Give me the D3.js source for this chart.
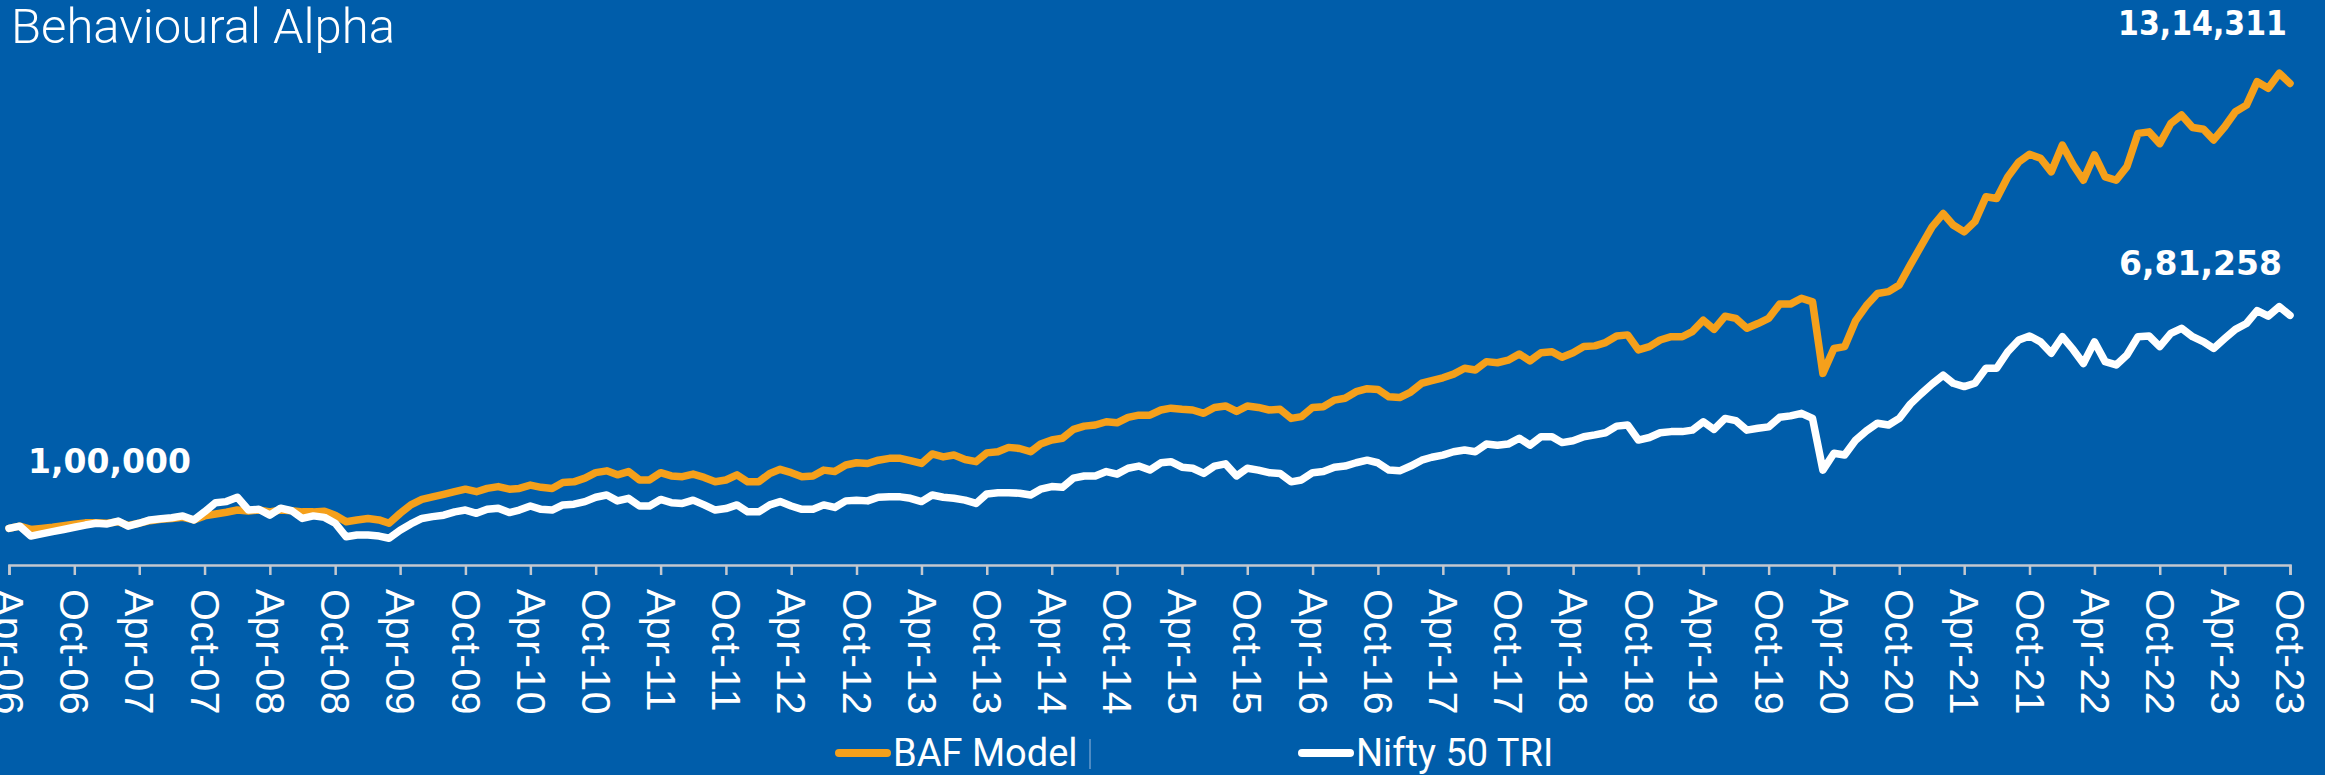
<!DOCTYPE html>
<html>
<head>
    <title>Behavioural Alpha</title>
    <script src="https://d3js.org/d3.v7.min.js"></script>
    <style>
        body { margin: 0; background: #005daa; }
    </style>
</head>
<body>
    <div id="chart"></div>

    <script>
        // monthly points, Apr-06 .. Oct-23, values in thousands of rupees
        const startMonth = Date.UTC(2006, 3, 1);
        const endMonth = Date.UTC(2023, 9, 1);

        const bafModel = [
            100, 106, 97, 100, 103, 107, 111, 115, 115, 114, 118, 108,
            114, 121, 125, 127, 130, 123, 134, 139, 144, 150, 147, 150,
            145, 150, 148, 145, 145, 147, 136, 118, 123, 127, 123, 114,
            141, 164, 179, 186, 193, 200, 207, 200, 209, 214, 207, 209,
            218, 212, 209, 225, 227, 237, 252, 257, 246, 255, 232, 232,
            252, 243, 241, 248, 239, 227, 232, 246, 227, 227, 250, 261,
            252, 241, 243, 259, 255, 273, 279, 277, 286, 291, 291, 285,
            277, 303, 295, 300, 288, 282, 306, 309, 321, 318, 309, 330,
            341, 346, 370, 379, 382, 391, 388, 403, 409, 409, 423, 428,
            425, 423, 414, 430, 434, 419, 434, 430, 423, 425, 400, 405,
            430, 432, 450, 455, 473, 481, 479, 459, 457, 472, 496, 503,
            511, 521, 537, 532, 555, 552, 559, 576, 557, 579, 582, 567,
            579, 596, 598, 607, 625, 628, 587, 596, 614, 623, 623, 637,
            668, 643, 679, 673, 646, 659, 673, 712, 712, 728, 718, 523,
            591, 596, 667, 708, 741, 746, 764, 819, 870, 923, 959, 928,
            909, 937, 1005, 1000, 1059, 1100, 1121, 1110, 1073, 1146, 1091, 1050,
            1119, 1059, 1050, 1087, 1178, 1182, 1150, 1205, 1228, 1194, 1189, 1160,
            1196, 1237, 1255, 1319, 1301, 1342, 1314.311
        ];

        const nifty50Tri = [
            100, 106, 79, 85, 91, 97, 103, 109, 114, 112, 120, 106,
            114, 123, 126, 129, 134, 123, 145, 170, 173, 185, 150, 152,
            136, 155, 148, 127, 134, 130, 114, 77, 82, 82, 79, 73,
            95, 112, 127, 132, 136, 145, 150, 141, 152, 155, 143, 150,
            161, 152, 150, 164, 166, 173, 185, 191, 175, 182, 161, 161,
            179, 170, 168, 177, 164, 150, 154, 164, 145, 145, 164, 173,
            161, 152, 152, 164, 157, 175, 177, 175, 185, 186, 186, 182,
            173, 191, 185, 182, 177, 168, 194, 197, 197, 196, 191, 207,
            214, 212, 237, 243, 243, 255, 248, 264, 270, 259, 279, 282,
            267, 264, 250, 270, 276, 243, 264, 259, 252, 250, 227, 232,
            252, 255, 267, 270, 279, 286, 279, 259, 257, 270, 286, 294,
            300, 309, 314, 309, 330, 327, 330, 346, 327, 350, 350, 334,
            339, 350, 355, 361, 379, 382, 341, 348, 361, 364, 364, 368,
            391, 370, 400, 394, 368, 373, 377, 403, 407, 414, 400, 259,
            305, 300, 341, 366, 387, 382, 400, 439, 467, 494, 518, 496,
            487, 496, 537, 537, 582, 614, 625, 609, 578, 623, 587, 550,
            609, 555, 546, 573, 623, 625, 596, 632, 646, 623, 609, 591,
            618, 643, 659, 694, 679, 705, 681.258
        ];

        const seriesNames = ["BAF Model", "Nifty 50 TRI"];
        const seriesColors = ["#f5a01b", "#ffffff"];
        const startLabel = "1,00,000";
        const endLabels = ["13,14,311", "6,81,258"];

        const width = 2325, height = 775;

        const months = d3.utcMonth.range(new Date(startMonth), d3.utcMonth.offset(new Date(endMonth), 1));
        const toRows = vals => months.map((d, i) => ({ date: d, value: vals[i] * 1000 }));
        const baf = toRows(bafModel);
        const nifty = toRows(nifty50Tri);

        const svg = d3.select("#chart").append("svg")
            .attr("width", width)
            .attr("height", height)
            .style("display", "block")
            .style("background", "#005daa");

        const x = d3.scaleUtc()
            .domain([new Date(startMonth), new Date(endMonth)])
            .range([9, 2290]);

        const y = d3.scaleLinear()
            .domain([0, 1400000])
            .range([565, 52]);

        // x axis: a tick every April and October
        const tickDates = d3.utcMonth.range(new Date(startMonth), d3.utcMonth.offset(new Date(endMonth), 1), 6);
        const xAxis = svg.append("g")
            .attr("transform", "translate(0," + y(0) + ")")
            .call(d3.axisBottom(x)
                .tickValues(tickDates)
                .tickFormat(d3.utcFormat("%b-%y"))
                .tickSizeInner(10)
                .tickSizeOuter(10));

        xAxis.select(".domain").attr("stroke", "#c3c8cf").attr("stroke-width", 2.5);
        xAxis.selectAll(".tick line").attr("stroke", "#c3c8cf").attr("stroke-width", 2.5);
        xAxis.selectAll(".tick text")
            .attr("fill", "#ffffff")
            .attr("font-family", "'Liberation Sans', Arial, sans-serif")
            .attr("font-size", 41)
            .attr("letter-spacing", 0.5)
            .attr("text-anchor", "start")
            .attr("dy", "0.35em")
            .attr("transform", "translate(0,14) rotate(90)")
            .attr("x", 10)
            .attr("y", 0);

        const line = d3.line()
            .x(d => x(d.date))
            .y(d => y(d.value))
            .curve(d3.curveLinear);

        [baf, nifty].forEach((s, i) => {
            svg.append("path")
                .datum(s)
                .attr("fill", "none")
                .attr("stroke", seriesColors[i])
                .attr("stroke-width", 7.5)
                .attr("stroke-linejoin", "round")
                .attr("stroke-linecap", "round")
                .attr("d", line);
        });

        // title
        svg.append("text")
            .attr("x", 11)
            .attr("y", 43)
            .attr("fill", "#ffffff")
            .attr("font-family", "Roboto, 'Open Sans', sans-serif")
            .attr("font-weight", 300)
            .attr("font-size", 49)
            .text("Behavioural Alpha");

        // value labels
        const valueFont = "'DejaVu Sans', Verdana, sans-serif";
        svg.append("text")
            .attr("x", x(baf[0].date) + 19)
            .attr("y", y(baf[0].value) - 55)
            .attr("fill", "#ffffff")
            .attr("font-family", valueFont)
            .attr("font-weight", 700)
            .attr("font-size", 33)
            .text(startLabel);

        const lastBaf = baf[baf.length - 1], lastNifty = nifty[nifty.length - 1];
        svg.append("text")
            .attr("x", x(lastBaf.date) - 172)
            .attr("y", y(lastBaf.value) - 48)
            .attr("fill", "#ffffff")
            .attr("font-family", valueFont)
            .attr("font-weight", 700)
            .attr("font-size", 33)
            .attr("textLength", 169)
            .attr("lengthAdjust", "spacingAndGlyphs")
            .text(endLabels[0]);

        svg.append("text")
            .attr("x", x(lastNifty.date) - 171)
            .attr("y", y(lastNifty.value) - 40)
            .attr("fill", "#ffffff")
            .attr("font-family", valueFont)
            .attr("font-weight", 700)
            .attr("font-size", 33)
            .text(endLabels[1]);

        // legend
        const legendX = [835, 1298];
        const legend = svg.append("g").attr("transform", "translate(0,753)");
        seriesNames.forEach((name, i) => {
            legend.append("line")
                .attr("x1", legendX[i] + 4).attr("x2", legendX[i] + 52)
                .attr("y1", 0).attr("y2", 0)
                .attr("stroke", seriesColors[i])
                .attr("stroke-width", 8)
                .attr("stroke-linecap", "round");
            legend.append("text")
                .attr("x", legendX[i] + 58)
                .attr("y", 13)
                .attr("fill", "#ffffff")
                .attr("font-family", "Roboto, sans-serif")
                .attr("font-size", 38)
                .text(name);
        });
        legend.append("line")
            .attr("x1", 1090).attr("x2", 1090)
            .attr("y1", -14).attr("y2", 16)
            .attr("stroke", "#9bb9dc")
            .attr("stroke-width", 1);
    </script>
</body>
</html>
